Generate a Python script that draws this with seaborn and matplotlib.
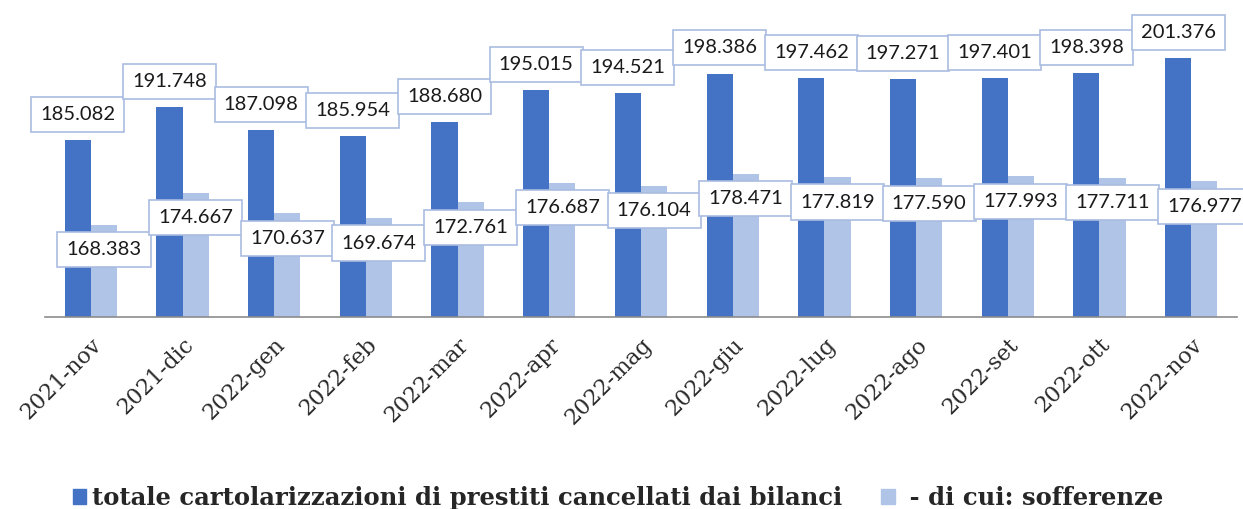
import pandas as pd
import matplotlib.pyplot as plt
import seaborn as sns
from matplotlib.patches import Patch

months = ["2021-nov", "2021-dic", "2022-gen", "2022-feb", "2022-mar", "2022-apr", "2022-mag",
          "2022-giu", "2022-lug", "2022-ago", "2022-set", "2022-ott", "2022-nov"]
totale = [185.082, 191.748, 187.098, 185.954, 188.680, 195.015, 194.521,
          198.386, 197.462, 197.271, 197.401, 198.398, 201.376]
sofferenze = [168.383, 174.667, 170.637, 169.674, 172.761, 176.687, 176.104,
              178.471, 177.819, 177.590, 177.993, 177.711, 176.977]
series_names = ["totale cartolarizzazioni di prestiti cancellati dai bilanci",
                " - di cui: sofferenze"]
colors = ["#4472C4", "#AFC4E6"]

df = pd.DataFrame({
    "mese": months * 2,
    "valore": totale + sofferenze,
    "serie": [series_names[0]] * len(months) + [series_names[1]] * len(months),
})

sns.set_style("white")
plt.rcParams["font.family"] = ["Lato", "DejaVu Sans"]

fig = plt.figure(figsize=(12.43, 5.09), dpi=100)
ax = fig.add_axes([45 / 1243, 192 / 509, 1192 / 1243, 317 / 509])

sns.barplot(data=df, x="mese", y="valore", hue="serie", palette=colors,
            width=0.57, gap=0, saturation=1, linewidth=0, edgecolor="none",
            ax=ax, legend=False)

ax.set_ylim(150, 213)
ax.set_xlim(-0.5, len(months) - 0.5)
ax.set_xlabel("")
ax.set_ylabel("")
ax.set_yticks([])
for side in ["top", "left", "right"]:
    ax.spines[side].set_visible(False)
ax.spines["bottom"].set_color("#8c8c8c")
ax.spines["bottom"].set_linewidth(1.2)

# ticks between categories, labels at centres
ax.set_xticks([i - 0.5 for i in range(len(months) + 1)], minor=True)
ax.tick_params(axis="x", which="minor", length=8, color="#8c8c8c", width=1.2, direction="out")
ax.tick_params(axis="x", which="major", length=0, pad=12)
ax.set_xticks(range(len(months)))
ax.set_xticklabels(months, rotation=45, ha="right", rotation_mode="anchor",
                   fontsize=16, family="DejaVu Serif", color="#2a2a2a")

box = dict(boxstyle="square,pad=0.45", fc="white", ec="#A9BCE0", lw=1.2)
for k, cont in enumerate(ax.containers):
    offset = 18.5 if k == 0 else -18
    for bar in cont:
        h = bar.get_height()
        ax.annotate(f"{h:.3f}", (bar.get_x() + bar.get_width() / 2, h),
                    xytext=(0, offset), textcoords="offset points",
                    ha="center", va="center", fontsize=14.5, color="#1a1a1a",
                    bbox=box, annotation_clip=False)

handles = [Patch(color=c, label=n) for c, n in zip(colors, series_names)]
fig.legend(handles=handles, loc="center", bbox_to_anchor=(0.497, 0.022), ncol=2,
           frameon=False, handlelength=0.55, handleheight=0.55, handletextpad=0.25,
           columnspacing=1.6, prop={"family": "DejaVu Serif", "weight": "bold", "size": 17.5})

fig.savefig("out.png", dpi=100)
